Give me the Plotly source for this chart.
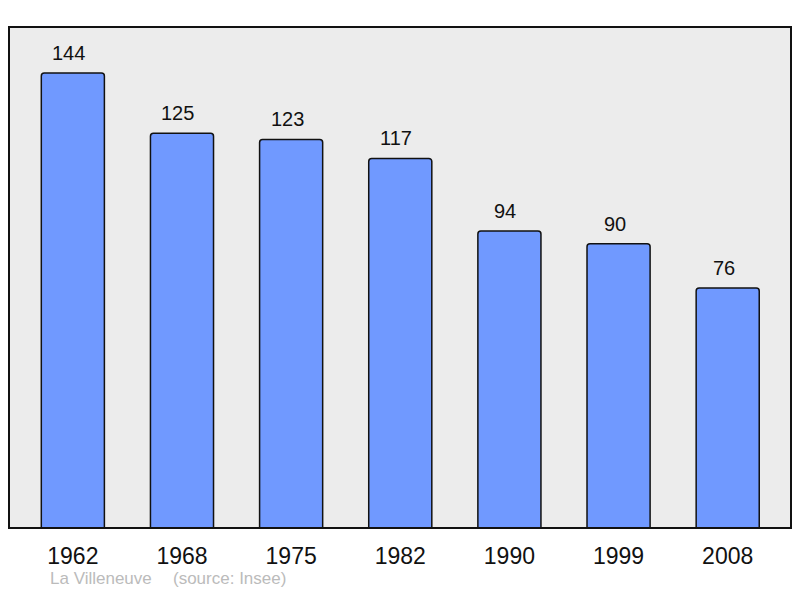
import plotly.graph_objects as go

years = ["1962", "1968", "1975", "1982", "1990", "1999", "2008"]
population = [144, 125, 123, 117, 94, 90, 76]
commune = "La Villeneuve"
source = "(source: Insee)"

FONT = "Liberation Sans, Arial"
fig = go.Figure()
fig.add_trace(go.Bar(
    x=list(range(len(years))), y=population,
    width=0.578,
    marker=dict(color="#7099ff", line=dict(color="#111111", width=1.5), cornerradius=3),
    hoverinfo="skip",
))
annos = []
for i, v in enumerate(population):
    annos.append(dict(x=i, y=v, text=str(v), showarrow=False, yanchor="bottom",
                      yshift=7, xshift=-4, font=dict(family=FONT, size=20, color="#111111")))
annos.append(dict(xref="paper", yref="paper", x=39 / 782, y=-0.1,
                  text=commune, showarrow=False, xanchor="left", yanchor="middle",
                  font=dict(family=FONT, size=17, color="#bbbbbb")))
annos.append(dict(xref="paper", yref="paper", x=162 / 782, y=-0.1,
                  text=source, showarrow=False, xanchor="left", yanchor="middle",
                  font=dict(family=FONT, size=17, color="#bbbbbb")))

# the page body has an 8px margin, so the figure is sized to sit inside it
fig.update_layout(
    width=784, height=582,
    margin=dict(l=1, r=1, t=19, b=62, autoexpand=False),
    paper_bgcolor="white", plot_bgcolor="#ececec",
    showlegend=False,
    xaxis=dict(range=[-0.585, 6.58], tickmode="array", tickvals=list(range(len(years))),
               ticktext=years, showgrid=False, zeroline=False, ticks="", ticklabelstandoff=12,
               tickfont=dict(family=FONT, size=23, color="#111111"), fixedrange=True),
    yaxis=dict(range=[0, 158.6], showgrid=False, zeroline=False, showticklabels=False, ticks="",
               fixedrange=True),
    shapes=[dict(type="rect", xref="paper", yref="paper", x0=0, x1=1, y0=0, y1=1,
                 line=dict(color="#111111", width=2), fillcolor="rgba(0,0,0,0)", layer="above")],
    annotations=annos,
)
fig.write_html("out.html")
